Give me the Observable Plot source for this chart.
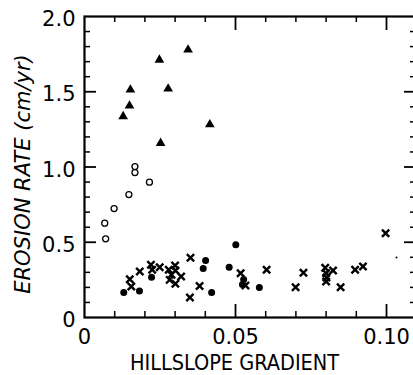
<!DOCTYPE html>
<html><head><meta charset="utf-8">
<script src="https://cdn.jsdelivr.net/npm/d3@7"></script>
<script src="https://cdn.jsdelivr.net/npm/@observablehq/plot@0.6"></script>
<style>body{margin:0;background:#fff}#chart{width:413px;height:375px;overflow:hidden}</style>
</head><body><div id="chart"></div>
<script>
// Triangles
const triX = [0.0343,0.0248,0.0152,0.0277,0.0149,0.0128,0.0415,0.0252];
const triY = [1.779,1.712,1.513,1.520,1.407,1.336,1.282,1.158];
// Open circles
const openX = [0.0167,0.0167,0.0215,0.0147,0.0098,0.0067,0.0070];
const openY = [1.003,0.963,0.899,0.817,0.724,0.627,0.523];
// Filled circles
const fillX = [0.0130,0.0182,0.0222,0.0393,0.0401,0.0421,0.0479,0.0501,0.0527,0.0523,0.0579];
const fillY = [0.166,0.176,0.268,0.326,0.379,0.166,0.334,0.483,0.252,0.219,0.199];
// Crosses
const crossX = [0.0150,0.0155,0.0183,0.0220,0.0224,0.0249,0.0279,0.0282,0.0288,0.0300,0.0301,0.0301,0.0320,0.0351,0.0349,0.0381,0.0517,0.0533,0.0603,0.0699,0.0725,0.0797,0.0800,0.0801,0.0800,0.0823,0.0848,0.0896,0.0922,0.0997];
const crossY = [0.254,0.206,0.306,0.350,0.317,0.334,0.317,0.250,0.284,0.346,0.312,0.224,0.272,0.397,0.133,0.209,0.294,0.213,0.317,0.201,0.297,0.330,0.294,0.266,0.239,0.312,0.201,0.317,0.339,0.560];
// Small speck
const speckX = [0.1033];
const speckY = [0.399];

const xTickValues = [0, 0.05, 0.10];
const xTickLabels = ["0", "0.05", "0.10"];
const yTickValues = [0, 0.5, 1.0, 1.5, 2.0];
const yTickLabels = ["0", "0.5", "1.0", "1.5", "2.0"];
const xMinorTicks = [0.01,0.02,0.03,0.04,0.06,0.07,0.08,0.09];
const xMajorTicks = [0.05, 0.10];
const yMinorTicks = [0.1,0.2,0.3,0.4,0.6,0.7,0.8,0.9,1.1,1.2,1.3,1.4,1.6,1.7,1.8,1.9];
const yMajorTicks = [0.5, 1.0, 1.5];

const xTitle = "HILLSLOPE GRADIENT";
const yTitle = "EROSION RATE (cm/yr)";

const W = 413, H = 375, mL = 84, mR = -2, mT = 16, mB = 58;
const pw = W - mL - mR, ph = H - mT - mB;
const xMax = 0.1096;

const pts = (xs, ys) => xs.map((x, i) => ({x, y: ys[i]}));
const font = "DejaVu Sans, sans-serif";
const condensed = "'DejaVu Sans Condensed', 'Liberation Sans Narrow', 'DejaVu Sans', sans-serif";

const chart = Plot.plot({
  width: W, height: H,
  marginLeft: mL, marginRight: mR, marginTop: mT, marginBottom: mB,
  style: {fontFamily: font, background: "#fff", color: "#000"},
  x: {domain: [0, xMax], axis: null},
  y: {domain: [0, 2], axis: null},
  marks: [
    Plot.ruleX(xMinorTicks, {stroke: "#000", strokeWidth: 1.5, insetTop: ph - 6}),
    Plot.ruleX(xMajorTicks, {stroke: "#000", strokeWidth: 1.8, insetTop: ph - 13}),
    Plot.ruleX(xMinorTicks, {stroke: "#000", strokeWidth: 1.5, insetBottom: ph - 6}),
    Plot.ruleX(xMajorTicks, {stroke: "#000", strokeWidth: 1.8, insetBottom: ph - 14}),
    Plot.ruleY(yMinorTicks, {stroke: "#000", strokeWidth: 1.5, insetRight: pw - 6}),
    Plot.ruleY(yMajorTicks, {stroke: "#000", strokeWidth: 1.8, insetRight: pw - 12}),
    Plot.ruleY(yMinorTicks, {stroke: "#000", strokeWidth: 1.5, insetLeft: pw - 5}),
    Plot.ruleY(yMajorTicks, {stroke: "#000", strokeWidth: 1.8, insetLeft: pw - 11}),
    Plot.frame({stroke: "#000", strokeWidth: 2.2}),
    Plot.axisX(xTickValues, {
      tickSize: 0, tickPadding: 12, fontSize: 21, label: null,
      tickFormat: d => xTickLabels[xTickValues.indexOf(d)]
    }),
    Plot.axisY(yTickValues, {
      tickSize: 0, tickPadding: 9, fontSize: 21, label: null, dy: 3,
      tickFormat: d => yTickLabels[yTickValues.indexOf(d)]
    }),
    Plot.text([xTitle], {frameAnchor: "bottom", dx: -15.5, dy: 46, fontSize: 21.5,
      fontFamily: condensed, textAnchor: "middle", lineAnchor: "middle", fill: "#000"}),
    Plot.text([yTitle], {frameAnchor: "left", rotate: -90, dx: -61, dy: 7, fontSize: 21,
      fontStyle: "italic", textAnchor: "middle", lineAnchor: "middle", fill: "#000"}),
    Plot.dot(pts(openX, openY), {x: "x", y: "y", r: 3, stroke: "#000", strokeWidth: 1.3, fill: "#fff"}),
    Plot.dot(pts(crossX, crossY), {x: "x", y: "y", symbol: "times", r: 3.4, stroke: "#000", strokeWidth: 2.4}),
    Plot.dot(pts(fillX, fillY), {x: "x", y: "y", r: 3.5, fill: "#000", stroke: "none"}),
    Plot.dot(pts(triX, triY), {x: "x", y: "y", symbol: "triangle", r: 3.6, fill: "#000", stroke: "none"}),
    Plot.dot(pts(speckX, speckY), {x: "x", y: "y", r: 1, fill: "#000", stroke: "none"})
  ]
});
document.getElementById("chart").appendChild(chart);
</script>
</body></html>
